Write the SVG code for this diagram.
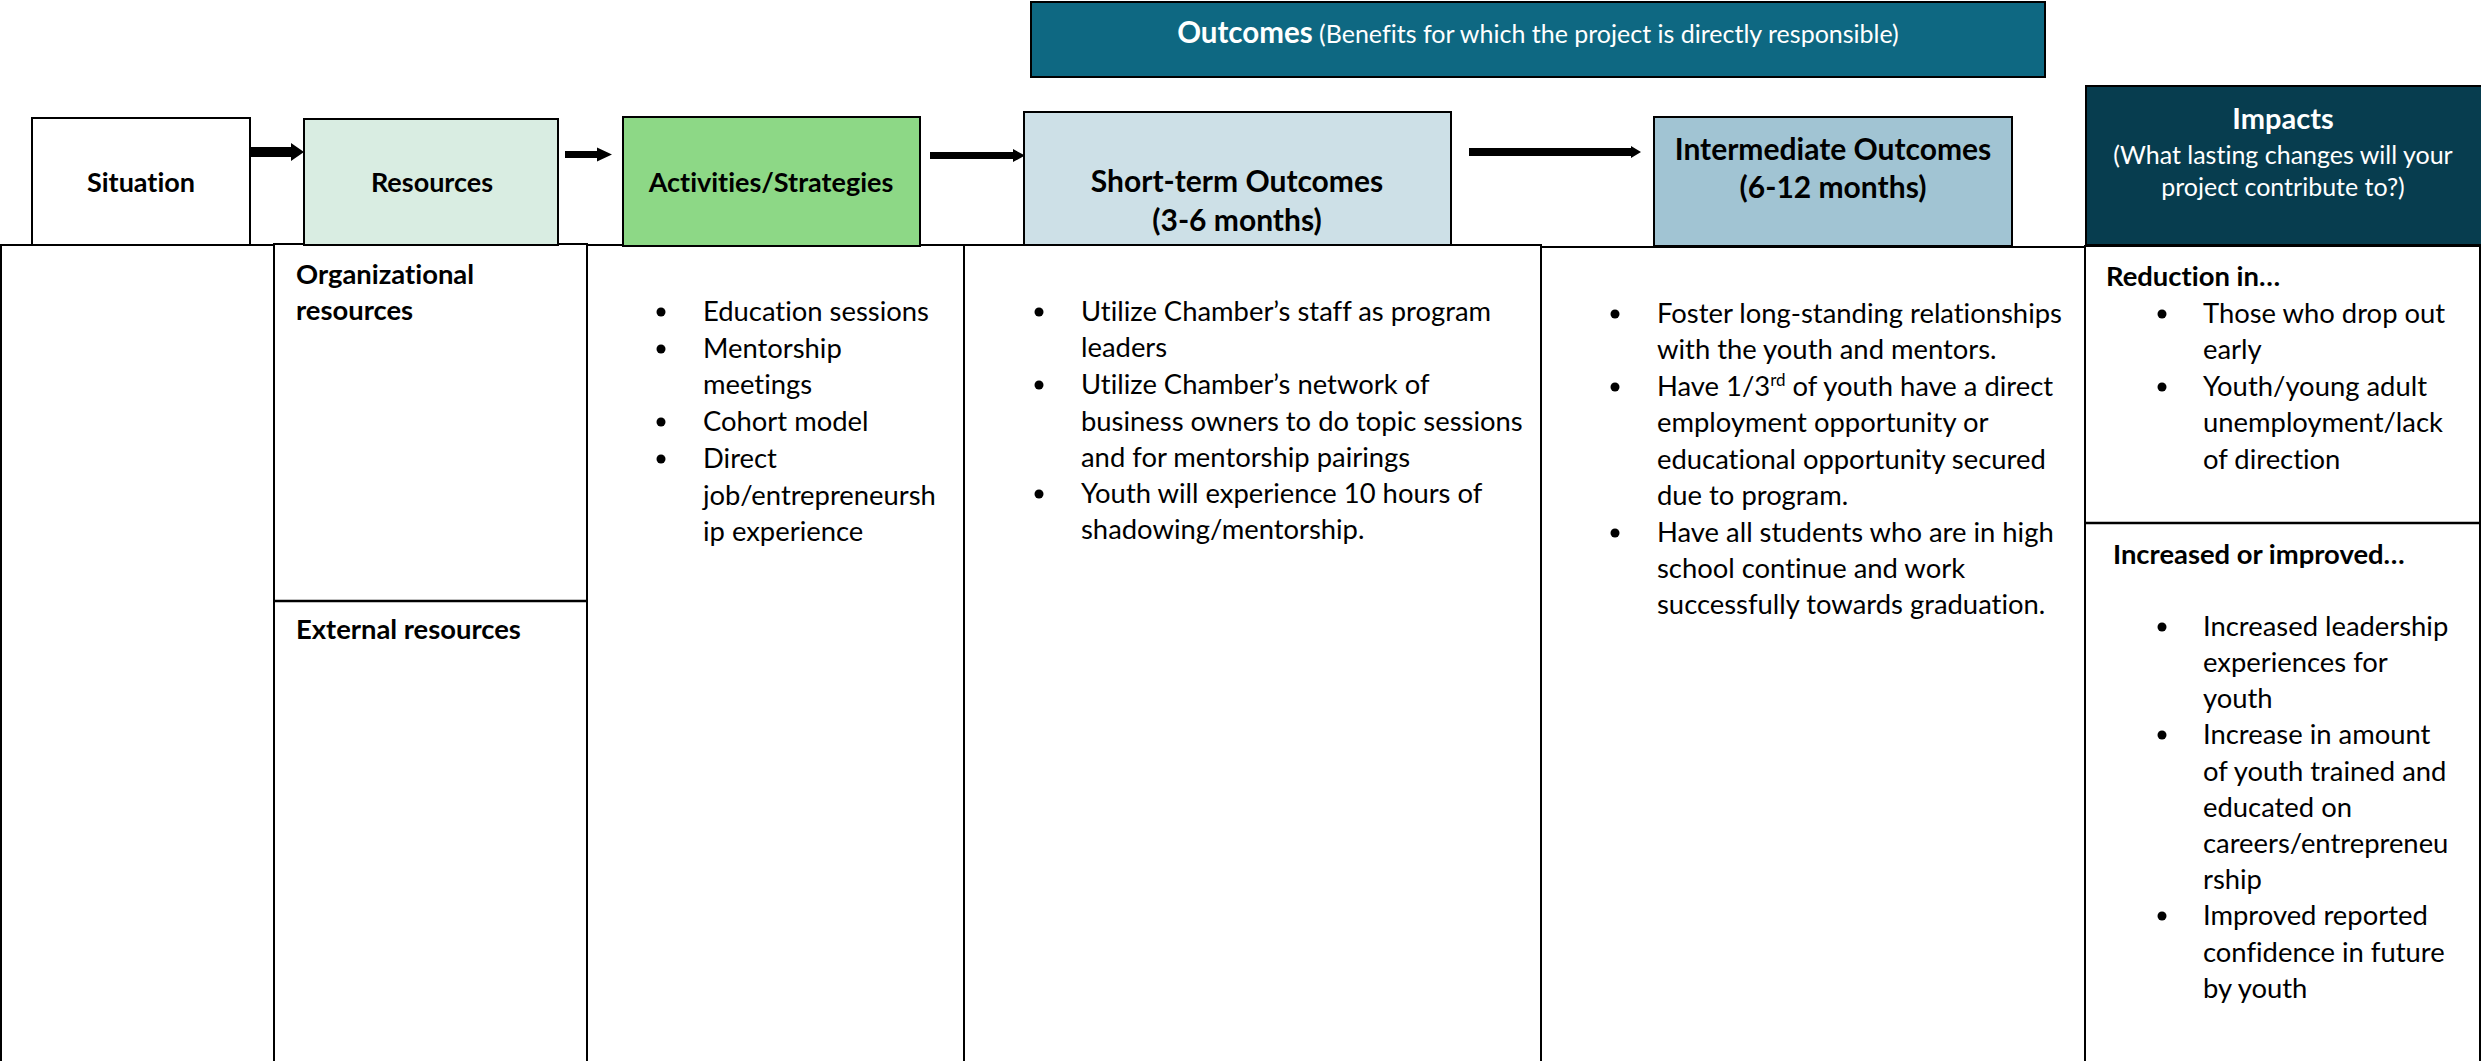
<svg xmlns="http://www.w3.org/2000/svg" width="2481" height="1061" viewBox="0 0 2481 1061">
<style>
.t{font-family:Lato,"Liberation Sans",sans-serif;font-size:27.4px;fill:#000;font-variant-ligatures:none;font-feature-settings:"liga" 0,"dlig" 0}
.b{font-weight:bold}
.h{font-size:27px;font-weight:bold;text-anchor:middle}
.h2{font-size:30px;font-weight:bold;text-anchor:middle}
.w{fill:#fff}
.box{stroke:#000;stroke-width:2}
.cell{fill:#fff;stroke:#000;stroke-width:2}
.arrow{fill:#000}
.dot{fill:#000}
</style>
<rect width="2481" height="1061" fill="#fff"/>

<g id="table">
  <rect class="cell" x="1" y="245" width="273" height="830"/>
  <rect class="cell" x="274" y="244" width="313" height="830"/>
  <line x1="274" y1="601" x2="587" y2="601" stroke="#000" stroke-width="2.5"/>
  <rect class="cell" x="587" y="245" width="377" height="830"/>
  <rect class="cell" x="964" y="245" width="577" height="830"/>
  <rect class="cell" x="1541" y="247" width="544" height="830"/>
  <rect class="cell" x="2085" y="246" width="395" height="830"/>
  <line x1="2085" y1="523" x2="2480" y2="523" stroke="#000" stroke-width="2.5"/>
</g>

<g id="outcomes-banner">
  <rect class="box" x="1031" y="2" width="1014" height="75" fill="#0e6882"/>
  <text class="t w" x="1538" y="43" text-anchor="middle"><tspan class="b" style="font-size:29.5px">Outcomes</tspan><tspan style="font-size:25px"> (Benefits for which the project is directly responsible)</tspan></text>
</g>

<g id="situation">
  <rect class="box" x="32" y="118" width="218" height="127" fill="#fff"/>
  <text class="t h" x="141" y="192">Situation</text>
</g>

<g id="resources">
  <rect class="box" x="304" y="119" width="254" height="126" fill="#d9ede2"/>
  <text class="t h" x="432" y="192">Resources</text>
</g>

<g id="activities">
  <rect class="box" x="623" y="117" width="297" height="129" fill="#8dd886"/>
  <text class="t h" x="771" y="192">Activities/Strategies</text>
</g>

<g id="short-term">
  <rect class="box" x="1024" y="112" width="427" height="133" fill="#cde0e7"/>
  <text class="t h2" x="1237" y="192">Short-term Outcomes</text>
  <text class="t h2" x="1237" y="231">(3-6 months)</text>
</g>

<g id="intermediate">
  <rect class="box" x="1654" y="117" width="358" height="129" fill="#a1c4d3"/>
  <text class="t h2" x="1833" y="160">Intermediate Outcomes</text>
  <text class="t h2" x="1833" y="198">(6-12 months)</text>
</g>

<g id="impacts">
  <rect class="box" x="2086" y="86" width="396" height="159" fill="#073d4f"/>
  <text class="t h2 w" x="2283" y="129" style="font-size:29px">Impacts</text>
  <text class="t w" x="2283" y="164" text-anchor="middle" style="font-size:25px">(What lasting changes will your</text>
  <text class="t w" x="2283" y="196" text-anchor="middle" style="font-size:25px">project contribute to?)</text>
</g>

<g id="connectors">
  <polygon class="arrow" points="251,147 291,147 291,143 304,152 291,161 291,157 251,157"/>
  <polygon class="arrow" points="565,151 597,151 597,147.5 612,154.5 597,161.5 597,158 565,158"/>
  <polygon class="arrow" points="930,152 1013,152 1013,149 1025,155.5 1013,162 1013,159 930,159"/>
  <polygon class="arrow" points="1469,148 1631,148 1631,146 1641,152 1631,158 1631,156 1469,156"/>
</g>

<g id="resources-content">
  <text class="t b" x="296" y="284">Organizational</text>
  <text class="t b" x="296" y="320">resources</text>
  <text class="t b" x="296" y="639">External resources</text>
</g>

<g id="activities-content">
  <circle class="dot" cx="661" cy="312" r="4.5"/>
  <circle class="dot" cx="661" cy="349" r="4.5"/>
  <circle class="dot" cx="661" cy="422" r="4.5"/>
  <circle class="dot" cx="661" cy="459" r="4.5"/>
  <text class="t" x="703" y="321">Education sessions</text>
  <text class="t" x="703" y="358">Mentorship</text>
  <text class="t" x="703" y="394">meetings</text>
  <text class="t" x="703" y="431">Cohort model</text>
  <text class="t" x="703" y="468">Direct</text>
  <text class="t" x="703" y="505">job/entrepreneursh</text>
  <text class="t" x="703" y="541">ip experience</text>
</g>

<g id="short-term-content">
  <circle class="dot" cx="1039" cy="312" r="4.5"/>
  <circle class="dot" cx="1039" cy="385" r="4.5"/>
  <circle class="dot" cx="1039" cy="494" r="4.5"/>
  <text class="t" x="1081" y="321">Utilize Chamber’s staff as program</text>
  <text class="t" x="1081" y="357">leaders</text>
  <text class="t" x="1081" y="394">Utilize Chamber’s network of</text>
  <text class="t" x="1081" y="431">business owners to do topic sessions</text>
  <text class="t" x="1081" y="467">and for mentorship pairings</text>
  <text class="t" x="1081" y="503">Youth will experience 10 hours of</text>
  <text class="t" x="1081" y="539">shadowing/mentorship.</text>
</g>

<g id="intermediate-content">
  <circle class="dot" cx="1615" cy="314" r="4.5"/>
  <circle class="dot" cx="1615" cy="387" r="4.5"/>
  <circle class="dot" cx="1615" cy="533" r="4.5"/>
  <text class="t" x="1657" y="323">Foster long-standing relationships</text>
  <text class="t" x="1657" y="359">with the youth and mentors.</text>
  <text class="t" x="1657" y="396">Have 1/3<tspan dy="-10" style="font-size:17px">rd</tspan><tspan dy="10"> of youth have a direct</tspan></text>
  <text class="t" x="1657" y="432">employment opportunity or</text>
  <text class="t" x="1657" y="469">educational opportunity secured</text>
  <text class="t" x="1657" y="505">due to program.</text>
  <text class="t" x="1657" y="542">Have all students who are in high</text>
  <text class="t" x="1657" y="578">school continue and work</text>
  <text class="t" x="1657" y="614">successfully towards graduation.</text>
</g>

<g id="impacts-content">
  <text class="t b" x="2106" y="286">Reduction in…</text>
  <circle class="dot" cx="2162" cy="314" r="4.5"/>
  <circle class="dot" cx="2162" cy="387" r="4.5"/>
  <text class="t" x="2203" y="323">Those who drop out</text>
  <text class="t" x="2203" y="359">early</text>
  <text class="t" x="2203" y="396">Youth/young adult</text>
  <text class="t" x="2203" y="432">unemployment/lack</text>
  <text class="t" x="2203" y="469">of direction</text>

  <text class="t b" x="2113" y="564">Increased or improved…</text>
  <circle class="dot" cx="2162" cy="627" r="4.5"/>
  <circle class="dot" cx="2162" cy="735" r="4.5"/>
  <circle class="dot" cx="2162" cy="916" r="4.5"/>
  <text class="t" x="2203" y="636">Increased leadership</text>
  <text class="t" x="2203" y="672">experiences for</text>
  <text class="t" x="2203" y="708">youth</text>
  <text class="t" x="2203" y="744">Increase in amount</text>
  <text class="t" x="2203" y="781">of youth trained and</text>
  <text class="t" x="2203" y="817">educated on</text>
  <text class="t" x="2203" y="853">careers/entrepreneu</text>
  <text class="t" x="2203" y="889">rship</text>
  <text class="t" x="2203" y="925">Improved reported</text>
  <text class="t" x="2203" y="962">confidence in future</text>
  <text class="t" x="2203" y="998">by youth</text>
</g>
</svg>
